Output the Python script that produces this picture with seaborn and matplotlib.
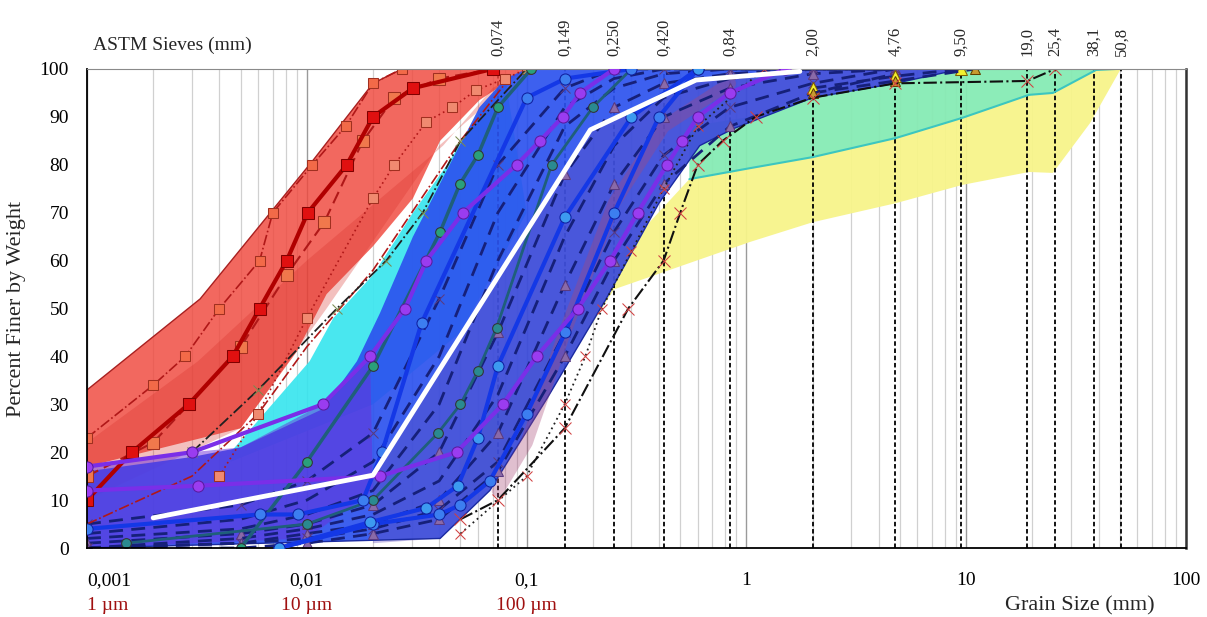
import matplotlib
matplotlib.use("Agg")
import matplotlib.pyplot as plt
import matplotlib.ticker as mticker
import seaborn as sns

sns.set_style("white")
plt.rcParams['font.family'] = ['Liberation Serif', 'DejaVu Serif']

# ---- ASTM sieves
sieve_mm = [0.074, 0.149, 0.250, 0.420, 0.84, 2.00, 4.76, 9.50, 19.0, 25.4, 38.1, 50.8]
sieve_lbl = ['0,074', '0,149', '0,250', '0,420', '0,84', '2,00', '4,76', '9,50',
             '19,0', '25,4', '38,1', '50,8']

# ---- envelopes (upper edge / lower edge)
yel_hi_x = [0.05, 0.25, 0.55, 1.04, 2.0, 4.8, 9.6, 19.3, 24.8, 39, 48]
yel_hi_y = [20, 60, 77, 79.3, 81.6, 85.6, 89.8, 94.6, 95, 99.8, 100]
yel_lo_x = [0.05, 0.15, 0.25, 1.04, 2.0, 4.8, 9.6, 19.3, 24.8, 36.6, 50.5]
yel_lo_y = [6, 38, 54, 63.9, 68, 72, 75.8, 78.5, 78.3, 88.7, 100]

grn_hi_x = [0.55, 1.04, 2.0, 4.8, 9.6, 19.3, 24.8, 39, 48]
grn_hi_y = [88, 90, 94, 97, 100, 100, 100, 100, 100]
grn_lo_x = [0.55, 1.04, 2.0, 4.8, 9.6, 19.3, 24.8, 39, 48]
grn_lo_y = [77, 79.3, 81.6, 85.6, 89.8, 94.6, 95, 99.8, 100]

cyan_hi_x = [0.0045, 0.0103, 0.0132, 0.02, 0.0304, 0.0435, 0.061, 0.08]
cyan_hi_y = [20, 39, 48, 57, 70, 80, 91, 98]
cyan_lo_x = [0.0045, 0.02, 0.05, 0.1]
cyan_lo_y = [18, 30, 45, 70]

red_hi_x = [0.001, 0.00327, 0.0107, 0.02, 0.0271, 0.1]
red_hi_y = [33, 52, 81, 97, 100, 100]
red_lo_x = [0.001, 0.005, 0.009, 0.0123, 0.02, 0.0304, 0.0404, 0.061, 0.1]
red_lo_y = [17, 25, 41, 53, 63, 73, 85, 93.5, 100]

red2_hi_x = [0.001, 0.0032, 0.01, 0.0417, 0.07, 0.1]
red2_hi_y = [22, 39, 60, 84, 96, 100]
red2_lo_x = [0.001, 0.005, 0.0123, 0.04, 0.1]
red2_lo_y = [10, 25, 50, 84, 100]

blue_hi_x = [0.001, 0.003, 0.005, 0.0118, 0.0169, 0.0215, 0.0304, 0.0435, 0.061, 0.08, 0.1, 9.5]
blue_hi_y = [16, 19, 21, 29, 39, 49, 65, 79, 92, 98, 100, 100]
blue_lo_x = [0.001, 0.0404, 0.068, 0.123, 0.23, 0.4, 0.613, 0.87, 2.0, 4.76, 9.5]
blue_lo_y = [0, 2, 12, 31, 52, 72, 84, 87.5, 94, 97, 100]

purp_hi_x = [0.001, 0.003, 0.005, 0.0118, 0.0194]
purp_hi_y = [17, 20, 21, 30, 40]
purp_lo_x = [0.001, 0.01, 0.02, 0.0194]
purp_lo_y = [0, 2, 12, 40]

slate_hi_x = [0.02, 0.195, 0.59, 2.0, 9.5]
slate_hi_y = [15, 87, 97.7, 100, 100]
slate_lo_x = [0.02, 0.0404, 0.068, 0.123, 0.23, 0.4, 0.613, 0.87, 2.0, 4.76, 9.5]
slate_lo_y = [1, 2, 12, 31, 52, 72, 84, 87.5, 94, 97, 100]

# ---- curves
white_x = [0.002, 0.02, 0.195, 0.59, 1.75]
white_y = [6.3, 15.2, 87.3, 97.7, 99.5]

clay_x = [0.001, 0.0016, 0.0029, 0.0046, 0.0061, 0.0081, 0.0101, 0.0152, 0.02, 0.0304, 0.07]
clay_y = [10, 20, 30, 40, 50, 60, 70, 80, 90, 96, 100]

r1_x = [0.001, 0.002, 0.0028, 0.004, 0.0061, 0.007, 0.0106, 0.015, 0.02, 0.027]
r1_y = [23, 34, 40, 50, 60, 70, 80, 88, 97, 100]
r2_x = [0.001, 0.002, 0.0029, 0.005, 0.0081, 0.012, 0.018, 0.025, 0.04, 0.07]
r2_y = [15, 22, 30, 42, 57, 68, 85, 94, 98, 100]
r3_x = [0.004, 0.006, 0.01, 0.02, 0.025, 0.035, 0.046, 0.059, 0.08, 0.1]
r3_y = [15, 28, 48, 73, 80, 89, 92, 95.6, 98, 100]
r4_x = [0.001, 0.003, 0.006, 0.01, 0.02, 0.03, 0.05, 0.08]
r4_y = [5, 15, 28, 42, 58, 70, 85, 97]

p1_x = [0.001, 0.003, 0.0118, 0.0194, 0.028, 0.035, 0.0513, 0.09, 0.115, 0.146, 0.175, 0.25]
p1_y = [17, 20, 30, 40, 50, 60, 70, 80, 85, 90, 95, 100]
p2_x = [0.001, 0.0032, 0.0215, 0.048, 0.078, 0.111, 0.171, 0.24, 0.32, 0.435, 0.51, 0.6, 0.84, 1.5]
p2_y = [12, 13, 15, 20, 30, 40, 50, 60, 70, 80, 85, 90, 95, 100]

b1_x = [0.0075, 0.0194, 0.035, 0.0487, 0.06, 0.074, 0.149, 0.3, 0.6]
b1_y = [0, 5.4, 8.4, 13, 23, 38, 69, 90, 100]
b2_x = [0.001, 0.0061, 0.0091, 0.018, 0.022, 0.0333, 0.1, 0.15, 0.3]
b2_y = [4, 7, 7, 10, 20, 47, 94, 98, 100]
b3_x = [0.0075, 0.02, 0.04, 0.05, 0.068, 0.1, 0.15, 0.25, 0.4, 0.6]
b3_y = [0, 5, 7, 9, 14, 28, 45, 70, 90, 100]

t1_x = [0.005, 0.01, 0.02, 0.0404, 0.0497, 0.06, 0.074, 0.105]
t1_y = [0, 18, 38, 66, 76, 82, 92, 100]
t2_x = [0.0015, 0.01, 0.02, 0.0395, 0.05, 0.06, 0.073, 0.13, 0.2, 0.3]
t2_y = [1, 5, 10, 24, 30, 37, 46, 80, 92, 100]

k1_x = [0.05, 0.074, 0.149, 0.29, 0.42, 0.5, 0.6, 0.78, 1.1, 2.0, 4.76, 19.0, 25.4]
k1_y = [6, 10, 25, 50, 60, 70, 80, 85, 90, 94, 97, 97.5, 100]
k2_x = [0.05, 0.1, 0.149, 0.185, 0.22, 0.3, 0.42, 0.6, 1.2]
k2_y = [3, 15, 30, 40, 50, 62, 75, 88, 100]
k3_x = [0.003, 0.006, 0.0137, 0.023, 0.0337, 0.05, 0.1]
k3_y = [20, 33, 50, 60, 70, 85, 100]

mauve_x = [0.074, 0.1, 0.149, 0.25, 0.42, 0.84]
mauve_y = [12, 22, 45, 72, 88, 97]

dash_x = [0.001, 0.005, 0.01, 0.02, 0.04, 0.074, 0.149, 0.25, 0.42, 0.84, 2.0, 4.76]
d1_y = [2, 4, 7, 12, 30, 60, 88, 96, 99, 100, 100, 100]
d2_y = [1, 3, 5, 9, 20, 45, 78, 92, 97, 99, 100, 100]
d3_y = [0, 2, 4, 7, 14, 32, 65, 84, 94, 98, 100, 100]
d4_y = [0, 1, 3, 5, 10, 24, 55, 76, 90, 96, 99, 100]
d5_y = [0, 1, 2, 4, 8, 18, 45, 66, 82, 92, 97, 100]
d6_y = [0, 0, 1, 3, 6, 16, 40, 60, 76, 88, 95, 99]
d7_y = [3, 6, 10, 18, 40, 70, 92, 98, 100, 100, 100, 100]
d8_y = [5, 9, 14, 24, 52, 80, 96, 100, 100, 100, 100, 100]

g1_x = [2.0, 4.76, 9.5]
g1_y = [96, 98.5, 100]
g2_x = [2.0, 4.76, 11.0]
g2_y = [95, 97.5, 100]


def band(ax, xh, yh, xl, yl, **kw):
    ax.fill(list(xh) + list(xl)[::-1], list(yh) + list(yl)[::-1], lw=0, **kw)


def curve(ax, x, y, **kw):
    kw.setdefault('markeredgecolor', '#333333')
    sns.lineplot(x=x, y=y, ax=ax, sort=False, estimator=None, **kw)


fig, ax = plt.subplots(figsize=(12.07, 6.17), dpi=100)
fig.subplots_adjust(left=0.0721, right=0.9826, bottom=0.1118, top=0.8882)
ax.set_xscale('log')
ax.set_xlim(0.001, 100)
ax.set_ylim(0, 100)

# fills
band(ax, yel_hi_x, yel_hi_y, yel_lo_x, yel_lo_y, color='#f7f48a', alpha=0.95, zorder=1)
band(ax, grn_hi_x, grn_hi_y, grn_lo_x, grn_lo_y, color='#86ebb4', alpha=0.95, zorder=1.1)
band(ax, cyan_hi_x, cyan_hi_y, cyan_lo_x, cyan_lo_y, color='#3fe6ef', alpha=0.95, zorder=1.2)
band(ax, red_hi_x, red_hi_y, red_lo_x, red_lo_y, color='#f0473c', alpha=0.82, zorder=1.3)
band(ax, red2_hi_x, red2_hi_y, red2_lo_x, red2_lo_y, color='#d8302a', alpha=0.3, zorder=1.4)
band(ax, blue_hi_x, blue_hi_y, blue_lo_x, blue_lo_y, color='#2c52ee', alpha=0.92, zorder=1.5)
band(ax, purp_hi_x, purp_hi_y, purp_lo_x, purp_lo_y, color='#6a2ed8', alpha=0.5, zorder=1.6)
band(ax, slate_hi_x, slate_hi_y, slate_lo_x, slate_lo_y, color='#6048b8', alpha=0.35, zorder=1.6)
ax.plot(grn_lo_x, grn_lo_y, color='#3cc6c0', lw=1.5, zorder=1.7)
ax.plot(red_hi_x, red_hi_y, color='#a82020', lw=1, zorder=1.7)
ax.plot(blue_lo_x, blue_lo_y, color='#1a2aa0', lw=1, zorder=1.7)

# sieves (under the blue and red bands)
for s, lab in zip(sieve_mm, sieve_lbl):
    ax.axvline(s, color='black', lw=1.3, ls=(0, (2.5, 1.5)), zorder=1.25)
    ax.text(s, 102.8, lab, rotation=90, ha='center', va='bottom', fontsize=12,
            clip_on=False)

# dashed navy curves
navy = '#16207a'
for yy, mk in [(d1_y, None), (d2_y, '^'), (d3_y, None), (d4_y, '^'),
               (d5_y, 'x'), (d6_y, '^'), (d7_y, None), (d8_y, 'x')]:
    curve(ax, dash_x, yy, color=navy, lw=2, linestyle=(0, (5, 3)), marker=mk,
          markersize=7, markerfacecolor='#8a6aa8', markeredgecolor='#5a3a80', zorder=2.2)
curve(ax, g1_x, g1_y, color=navy, lw=2, linestyle=(0, (5, 3)), marker='^',
      markersize=8, markerfacecolor='#f2ef30', markeredgecolor='#806000', zorder=2.2)
curve(ax, g2_x, g2_y, color=navy, lw=2, linestyle=(0, (5, 3)), marker='^',
      markersize=7, markerfacecolor='#c89a30', markeredgecolor='#604000', zorder=2.2)

curve(ax, mauve_x, mauve_y, color='#a84878', lw=9, alpha=0.35, zorder=2.1)

# red clay curves
curve(ax, r4_x, r4_y, color='#b01818', lw=1.2, linestyle='-.', zorder=2.3)
curve(ax, r1_x, r1_y, color='#b01818', lw=1.2, linestyle='-.', marker='s', markersize=7,
      markerfacecolor='#f26a48', markeredgecolor='#a03020', zorder=2.3)
curve(ax, r2_x, r2_y, color='#b01818', lw=1.5, linestyle=(0, (6, 3)), marker='s', markersize=8,
      markerfacecolor='#f0784c', markeredgecolor='#a03020', zorder=2.3)
curve(ax, r3_x, r3_y, color='#b01818', lw=1.2, linestyle=(0, (1, 2)), marker='s', markersize=7,
      markerfacecolor='#f08a70', markeredgecolor='#a03020', zorder=2.3)
curve(ax, clay_x, clay_y, color='#b00000', lw=3, marker='s', markersize=8,
      markerfacecolor='#e01010', markeredgecolor='#800000', zorder=2.4)

# black dash-dot curves
curve(ax, k3_x, k3_y, color='#202020', lw=1.3, linestyle='-.', marker='x', markersize=7,
      markeredgecolor='#7a8a50', zorder=2.3)
curve(ax, k2_x, k2_y, color='#202020', lw=1.3, linestyle=(0, (1, 2)), marker='x', markersize=7,
      markeredgecolor='#d04040', zorder=2.3)
curve(ax, k1_x, k1_y, color='#101010', lw=1.5, linestyle='-.', marker='x', markersize=8,
      markeredgecolor='#d04040', zorder=2.3)

# teal, blue, purple curves
curve(ax, t2_x, t2_y, color='#1f5f7a', lw=2, marker='o', markersize=7,
      markerfacecolor='#2a8a90', zorder=2.5)
curve(ax, t1_x, t1_y, color='#1f5f7a', lw=2.5, marker='o', markersize=7,
      markerfacecolor='#2aa07a', zorder=2.5)
curve(ax, b3_x, b3_y, color='#1438e6', lw=3, marker='o', markersize=8,
      markerfacecolor='#3c7ef0', markeredgecolor='#1020a0', zorder=2.6)
curve(ax, b1_x, b1_y, color='#1438e6', lw=3, marker='o', markersize=8,
      markerfacecolor='#3c9af0', markeredgecolor='#1020a0', zorder=2.6)
curve(ax, b2_x, b2_y, color='#1438e6', lw=3, marker='o', markersize=8,
      markerfacecolor='#3c7ef0', markeredgecolor='#1020a0', zorder=2.6)
curve(ax, p1_x, p1_y, color='#7a2ee8', lw=3, marker='o', markersize=8,
      markerfacecolor='#9a3cf0', markeredgecolor='#5a1aa0', zorder=2.7)
curve(ax, p2_x, p2_y, color='#7a2ee8', lw=3, marker='o', markersize=8,
      markerfacecolor='#9a3cf0', markeredgecolor='#5a1aa0', zorder=2.7)

curve(ax, white_x, white_y, color='white', lw=3.5, zorder=3)

# axes styling
ax.xaxis.set_major_locator(mticker.FixedLocator([0.001, 0.01, 0.1, 1, 10, 100]))
ax.xaxis.set_major_formatter(mticker.FixedFormatter(['0,001', '0,01', '0,1', '1', '10', '100']))
ax.xaxis.set_minor_locator(mticker.LogLocator(base=10, subs=range(2, 10)))
ax.xaxis.set_minor_formatter(mticker.NullFormatter())
ax.yaxis.set_major_locator(mticker.MultipleLocator(10))
ax.yaxis.set_minor_locator(mticker.MultipleLocator(2))
ax.grid(which='minor', axis='x', color='#d0d0d0', lw=0.9, zorder=0)
ax.grid(which='major', axis='x', color='#9a9a9a', lw=1.0, zorder=0)
ax.grid(axis='y', visible=False)
ax.set_axisbelow(True)

ax.tick_params(which='major', direction='inout', length=10, width=1.2, labelsize=14,
               colors='black', pad=8)
ax.tick_params(which='minor', direction='in', length=4, width=1)
ax.tick_params(axis='x', which='major', pad=12)
ax.get_xticklabels()[0].set_ha('left')

for side in ['left', 'bottom']:
    ax.spines[side].set_color('black')
    ax.spines[side].set_linewidth(1.3)
ax.spines['top'].set_color('#8a8a8a')
ax.spines['right'].set_color('#333333')
ax.spines['right'].set_linewidth(1.8)

ax.set_ylabel('Percent Finer by Weight', fontsize=16, labelpad=10)
ax.set_xlabel('')
ax.text(0.005, 1.05, 'ASTM Sieves (mm)', transform=ax.transAxes, fontsize=14,
        ha='left', va='center')
xt = ax.get_xaxis_transform()
ax.text(0.001, -0.12, '1 \u00b5m', transform=xt, fontsize=14, color='#a01010', ha='left', va='center')
ax.text(0.01, -0.12, '10 \u00b5m', transform=xt, fontsize=14, color='#a01010', ha='center', va='center')
ax.text(0.1, -0.12, '100 \u00b5m', transform=xt, fontsize=14, color='#a01010', ha='center', va='center')
ax.text(0.9035, -0.12, 'Grain Size (mm)', transform=ax.transAxes, fontsize=16,
        ha='center', va='center')

fig.savefig('out.png', dpi=100)
